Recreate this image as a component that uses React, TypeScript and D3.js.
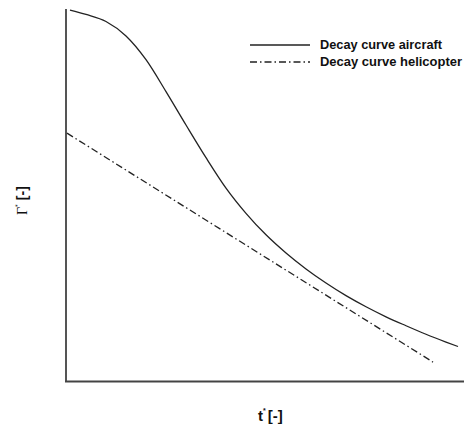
import React from "react";
import * as d3 from "d3";

const aircraftT = [1, 5, 10, 15, 20, 25, 30, 35, 40, 45, 50, 55, 60, 65, 70, 75, 80, 85, 90, 95, 98];
const aircraftG = [100, 98.8, 96.9, 93, 86.6, 78, 69, 60.2, 52, 45.2, 39.4, 34.5, 30.2, 26.4, 23, 20, 17.3, 14.9, 12.6, 10.5, 9.3];
const heliT = [0.25, 91.75];
const heliG = [66.8, 5.1];
const legendLabels = ["Decay curve aircraft", "Decay curve helicopter"];

const W = 464, H = 430;
const x = d3.scaleLinear().domain([0, 100]).range([66, 466]);
const y = d3.scaleLinear().domain([0, 100]).range([381, 10]);

export default function App() {
  const smooth = d3.line<[number, number]>().x(d => x(d[0])).y(d => y(d[1])).curve(d3.curveMonotoneX);
  const straight = d3.line<[number, number]>().x(d => x(d[0])).y(d => y(d[1]));
  const a = aircraftT.map((t, i) => [t, aircraftG[i]] as [number, number]);
  const h = heliT.map((t, i) => [t, heliG[i]] as [number, number]);
  const dash = "7,3,1.5,3";
  return (
    <svg width={W} height={H} style={{ position: "absolute", left: 0, top: 0, background: "#fff" }}>
      <rect x={0} y={0} width={W} height={H} fill="#fff" />
      <line x1={66} x2={66} y1={9} y2={382} stroke="#555" strokeWidth={2} />
      <line x1={65} x2={W} y1={381.5} y2={381.5} stroke="#444" strokeWidth={2} />
      <path d={smooth(a) || ""} fill="none" stroke="#222" strokeWidth={1.3} />
      <path d={straight(h) || ""} fill="none" stroke="#222" strokeWidth={1.3} strokeDasharray={dash} />
      <g fontFamily="Liberation Sans, Arial, sans-serif" fontWeight="bold" fontSize={12} fill="#111">
        <line x1={250} x2={310} y1={45} y2={45} stroke="#222" strokeWidth={1.3} />
        <text x={320} y={49} textLength={122} lengthAdjust="spacingAndGlyphs">{legendLabels[0]}</text>
        <line x1={250} x2={310} y1={62} y2={62} stroke="#222" strokeWidth={1.3} strokeDasharray={dash} />
        <text x={320} y={66} textLength={142} lengthAdjust="spacingAndGlyphs">{legendLabels[1]}</text>
      </g>
      <text x={258} y={421} fontFamily="Liberation Sans, Arial, sans-serif" fontWeight="bold" fontSize={15} fill="#111">
        t<tspan fontSize={7} dy={-8}>*</tspan><tspan dy={8} dx={2}>[-]</tspan>
      </text>
      <text transform="translate(27,215) rotate(-90)" fontFamily="Liberation Sans, Arial, sans-serif" fontSize={14} fill="#111">
        <tspan fontFamily="Liberation Serif, serif" fontWeight="normal">Γ</tspan>
        <tspan fontSize={7} dy={-7}>*</tspan>
        <tspan dy={7} dx={4} fontWeight="bold">[-]</tspan>
      </text>
    </svg>
  );
}
